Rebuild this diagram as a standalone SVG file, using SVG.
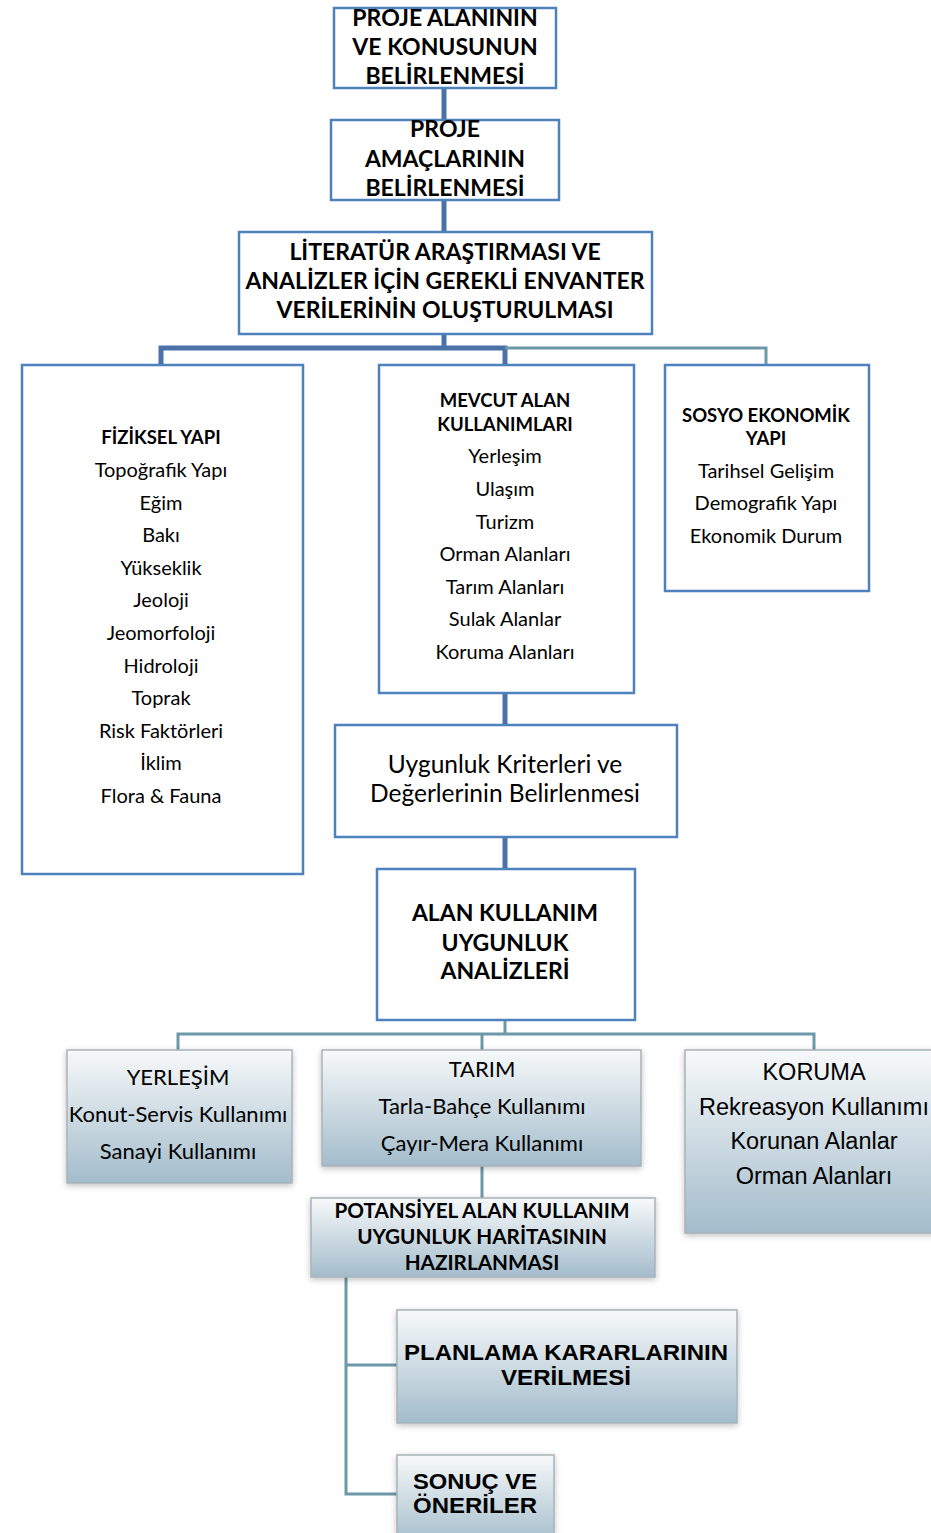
<svg xmlns="http://www.w3.org/2000/svg" width="931" height="1533" viewBox="0 0 931 1533">
<defs>
<linearGradient id="g" x1="0" y1="0" x2="0" y2="1">
<stop offset="0" stop-color="#f7f9fa"/>
<stop offset="1" stop-color="#a3bccb"/>
</linearGradient>
<filter id="sh" x="-10%" y="-10%" width="120%" height="130%">
<feGaussianBlur in="SourceAlpha" stdDeviation="3"/>
<feOffset dx="0" dy="2" result="b"/>
<feComponentTransfer><feFuncA type="linear" slope="0.25"/></feComponentTransfer>
<feMerge><feMergeNode/><feMergeNode in="SourceGraphic"/></feMerge>
</filter>
</defs>
<style>
.bx{fill:#ffffff;stroke:#4f81bd;stroke-width:2.5}
.gb{fill:url(#g);stroke:#a8b2b8;stroke-width:1.5;filter:url(#sh)}
.c1{stroke:#4a72a8;stroke-width:5;fill:none}
.c2{stroke:#6d98a8;stroke-width:3;fill:none}
text{font-family:Lato,"Noto Sans",sans-serif;fill:#000;text-anchor:middle}
.b22{font-size:23px;font-weight:bold}
.r18{font-size:20px}
.b17{font-size:18.5px;font-weight:bold}
.r23{font-size:24.5px}
.r20{font-size:22px}
.b20{font-size:20.7px;font-weight:bold}
.a22{font-family:"Liberation Sans",Arial,sans-serif;font-size:23.5px}
.ab22{font-family:"Liberation Sans",Arial,sans-serif;font-size:22.5px;font-weight:bold}
</style>
<g id="connectors">
<line class="c1" x1="444" y1="88" x2="444" y2="120"/>
<line class="c1" x1="444" y1="200" x2="444" y2="232"/>
<polyline class="c1" points="444,334 444,348"/>
<polyline class="c1" points="161,365 161,348 505,348 505,365"/>
<polyline class="c2" points="505,348 766,348 766,365"/>
<line class="c1" x1="505" y1="693" x2="505" y2="725"/>
<line class="c1" x1="505" y1="837" x2="505" y2="869"/>
<line class="c2" x1="505" y1="1020" x2="505" y2="1034"/>
<polyline class="c2" points="178,1050 178,1034 814,1034 814,1050"/>
<line class="c2" x1="482" y1="1034" x2="482" y2="1050"/>
<line class="c2" x1="482" y1="1166" x2="482" y2="1198"/>
<polyline class="c2" points="346,1277 346,1494 397,1494"/>
<line class="c2" x1="346" y1="1365" x2="397" y2="1365"/>
</g>
<g id="n1">
<rect class="bx" x="334" y="8" width="222" height="80"/>
<text class="b22" x="445" y="26">PROJE ALANININ</text>
<text class="b22" x="445" y="55">VE KONUSUNUN</text>
<text class="b22" x="445" y="84">BELİRLENMESİ</text>
</g>
<g id="n2">
<rect class="bx" x="331" y="120" width="228" height="80"/>
<text class="b22" x="445" y="137">PROJE</text>
<text class="b22" x="445" y="167">AMAÇLARININ</text>
<text class="b22" x="445" y="196">BELİRLENMESİ</text>
</g>
<g id="n3">
<rect class="bx" x="239" y="232" width="413" height="102"/>
<text class="b22" x="445" y="260">LİTERATÜR ARAŞTIRMASI VE</text>
<text class="b22" x="445" y="289">ANALİZLER İÇİN GEREKLİ ENVANTER</text>
<text class="b22" x="445" y="318">VERİLERİNİN OLUŞTURULMASI</text>
</g>
<g id="n4">
<rect class="bx" x="22" y="365" width="281" height="509"/>
<text class="b17" x="161" y="444">FİZİKSEL YAPI</text>
<text class="r18" x="161" y="477">Topoğrafik Yapı</text>
<text class="r18" x="161" y="510">Eğim</text>
<text class="r18" x="161" y="542">Bakı</text>
<text class="r18" x="161" y="575">Yükseklik</text>
<text class="r18" x="161" y="607">Jeoloji</text>
<text class="r18" x="161" y="640">Jeomorfoloji</text>
<text class="r18" x="161" y="673">Hidroloji</text>
<text class="r18" x="161" y="705">Toprak</text>
<text class="r18" x="161" y="738">Risk Faktörleri</text>
<text class="r18" x="161" y="770">İklim</text>
<text class="r18" x="161" y="803">Flora &amp; Fauna</text>
</g>
<g id="n5">
<rect class="bx" x="379" y="365" width="255" height="328"/>
<text class="b17" x="505" y="407">MEVCUT ALAN</text>
<text class="b17" x="505" y="431">KULLANIMLARI</text>
<text class="r18" x="505" y="463">Yerleşim</text>
<text class="r18" x="505" y="496">Ulaşım</text>
<text class="r18" x="505" y="529">Turizm</text>
<text class="r18" x="505" y="561">Orman Alanları</text>
<text class="r18" x="505" y="594">Tarım Alanları</text>
<text class="r18" x="505" y="626">Sulak Alanlar</text>
<text class="r18" x="505" y="659">Koruma Alanları</text>
</g>
<g id="n6">
<rect class="bx" x="665" y="365" width="204" height="226"/>
<text class="b17" x="766" y="422">SOSYO EKONOMİK</text>
<text class="b17" x="766" y="445">YAPI</text>
<text class="r18" x="766" y="478">Tarihsel Gelişim</text>
<text class="r18" x="766" y="510">Demografik Yapı</text>
<text class="r18" x="766" y="543">Ekonomik Durum</text>
</g>
<g id="n7">
<rect class="bx" x="335" y="725" width="342" height="112"/>
<text class="r23" x="505" y="773">Uygunluk Kriterleri ve</text>
<text class="r23" x="505" y="802">Değerlerinin Belirlenmesi</text>
</g>
<g id="n8">
<rect class="bx" x="377" y="869" width="258" height="151"/>
<text class="b22" x="505" y="921">ALAN KULLANIM</text>
<text class="b22" x="505" y="951">UYGUNLUK</text>
<text class="b22" x="505" y="979">ANALİZLERİ</text>
</g>
<g id="n9">
<rect class="gb" x="67" y="1050" width="225" height="133"/>
<text class="r20" x="178" y="1085">YERLEŞİM</text>
<text class="r20" x="178" y="1122">Konut-Servis Kullanımı</text>
<text class="r20" x="178" y="1159">Sanayi Kullanımı</text>
</g>
<g id="n10">
<rect class="gb" x="322" y="1050" width="319" height="116"/>
<text class="r20" x="482" y="1077">TARIM</text>
<text class="r20" x="482" y="1114">Tarla-Bahçe Kullanımı</text>
<text class="r20" x="482" y="1151">Çayır-Mera Kullanımı</text>
</g>
<g id="n11">
<rect class="gb" x="685" y="1050" width="252" height="183"/>
<text class="a22" x="814" y="1080">KORUMA</text>
<text class="a22" x="814" y="1115">Rekreasyon Kullanımı</text>
<text class="a22" x="814" y="1149">Korunan Alanlar</text>
<text class="a22" x="814" y="1184">Orman Alanları</text>
</g>
<g id="n12">
<rect class="gb" x="311" y="1198" width="344" height="79"/>
<text class="b20" x="482" y="1218">POTANSİYEL ALAN KULLANIM</text>
<text class="b20" x="482" y="1244">UYGUNLUK HARİTASININ</text>
<text class="b20" x="482" y="1270">HAZIRLANMASI</text>
</g>
<g id="n13">
<rect class="gb" x="397" y="1310" width="340" height="113"/>
<text class="ab22" x="566" y="1360" textLength="324" lengthAdjust="spacingAndGlyphs">PLANLAMA KARARLARININ</text>
<text class="ab22" x="566" y="1385" textLength="130" lengthAdjust="spacingAndGlyphs">VERİLMESİ</text>
</g>
<g id="n14">
<rect class="gb" x="397" y="1455" width="157" height="90"/>
<text class="ab22" x="475" y="1489" textLength="124" lengthAdjust="spacingAndGlyphs">SONUÇ VE</text>
<text class="ab22" x="475" y="1513" textLength="124" lengthAdjust="spacingAndGlyphs">ÖNERİLER</text>
</g>
</svg>
